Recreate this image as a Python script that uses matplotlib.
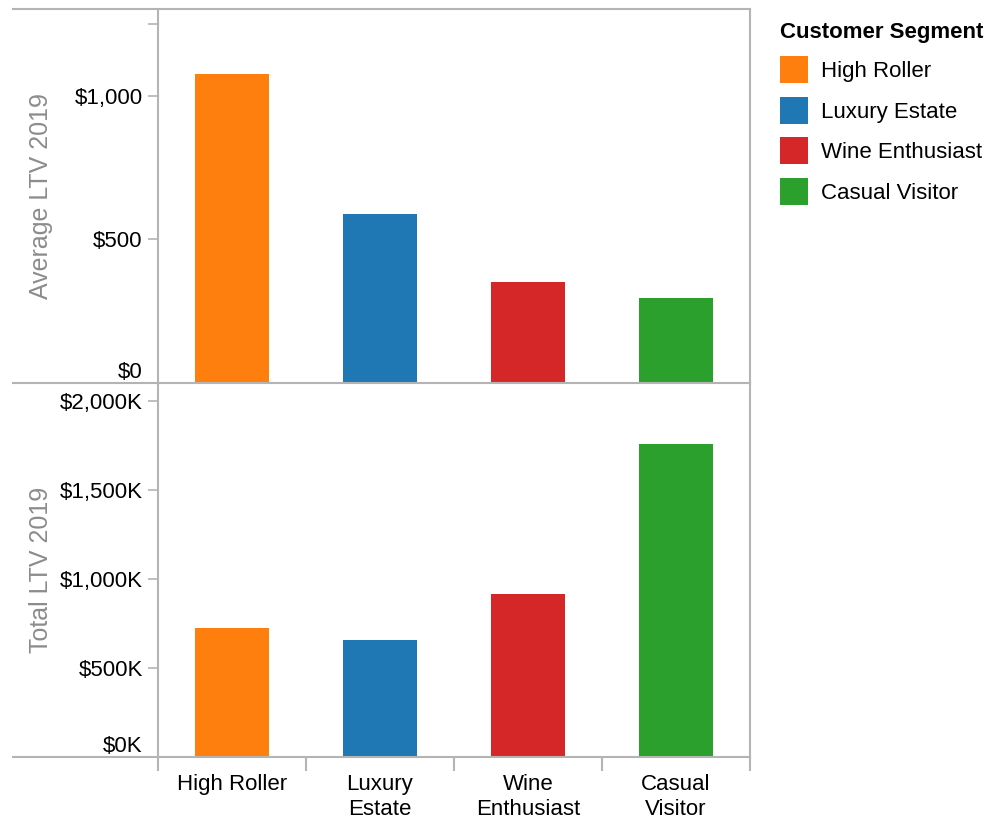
import matplotlib
matplotlib.use("Agg")
import matplotlib.pyplot as plt
from matplotlib.lines import Line2D
from matplotlib.patches import Patch
from matplotlib.ticker import FuncFormatter

plt.rcParams["font.family"] = ["Liberation Sans", "DejaVu Sans"]

# data
segments = ["High Roller", "Luxury Estate", "Wine Enthusiast", "Casual Visitor"]
tick_labels = ["High Roller", "Luxury\nEstate", "Wine\nEnthusiast", "Casual\nVisitor"]
colors = ["#ff7f0e", "#1f77b4", "#d62728", "#2ca02c"]
avg_ltv = [1075, 588, 352, 296]                 # dollars
total_ltv = [726000, 659000, 917000, 1760000]   # dollars

GRID = "#b4b4b4"
LABEL_GRAY = "#8c8c8c"
FS = 16

fig = plt.figure(figsize=(10.05, 8.21), dpi=100)
L, R = 158 / 1005, 750 / 1005
H = 821
ax1 = fig.add_axes([L, 1 - 383 / H, R - L, (383 - 9) / H])
ax2 = fig.add_axes([L, 1 - 757 / H, R - L, (757 - 383) / H])

xs = range(len(segments))
ax1.bar(xs, avg_ltv, width=0.5, color=colors)
ax2.bar(xs, total_ltv, width=0.5, color=colors)

ax1.set_ylim(0, 1302)
ax1.set_yticks([0, 500, 1000, 1250])
ax1.set_yticklabels(["$0", "$500", "$1,000", ""])
ax2.set_ylim(0, 2103000)
ax2.set_yticks([0, 500000, 1000000, 1500000, 2000000])
ax2.yaxis.set_major_formatter(FuncFormatter(lambda v, p: f"${v/1000:,.0f}K"))

for ax in (ax1, ax2):
    ax.set_xlim(-0.5, len(segments) - 0.5)
    for s in ax.spines.values():
        s.set_color(GRID)
        s.set_linewidth(1.5)
    ax.spines["top"].set_visible(False)
    ax.spines["bottom"].set_visible(False)
    ax.tick_params(axis="y", length=7, width=1.2, color=GRID, labelsize=FS, pad=4)
    ax.set_facecolor("none")

# zero labels sit above the baseline rule
fig.canvas.draw()
for ax in (ax1, ax2):
    ax.get_yticklabels()[0].set_verticalalignment("bottom")

ax1.set_xticks([])
ax2.set_xticks(list(xs))
ax2.set_xticklabels(tick_labels, fontsize=FS, linespacing=1.3)
ax2.tick_params(axis="x", length=0, pad=12)
# category separators below the axis
ax2.set_xticks([i - 0.5 for i in range(len(segments) + 1)], minor=True)
ax2.tick_params(axis="x", which="minor", length=10, width=1.5, color=GRID)

ax1.set_ylabel("Average LTV 2019", fontsize=18, color=LABEL_GRAY)
ax2.set_ylabel("Total LTV 2019", fontsize=18, color=LABEL_GRAY)
ax1.yaxis.set_label_coords(-0.177, 0.5)
ax2.yaxis.set_label_coords(-0.177, 0.5)

# long horizontal rules spanning the label area
for y in (9, 383, 757):
    fig.add_artist(Line2D([13 / 1005, R], [1 - y / H, 1 - y / H],
                          color=GRID, lw=1.5, transform=fig.transFigure))

handles = [Patch(facecolor=c, edgecolor="none") for c in colors]
leg = fig.legend(handles, segments, title="Customer Segment",
                 loc="upper left", bbox_to_anchor=(760 / 1005, 1 - 2 / H),
                 frameon=False, fontsize=FS, title_fontsize=FS,
                 handlelength=1.26, handleheight=1.5, handletextpad=0.6,
                 labelspacing=0.6, alignment="left")
leg.get_title().set_fontweight("bold")

fig.savefig("out.png", dpi=100)
